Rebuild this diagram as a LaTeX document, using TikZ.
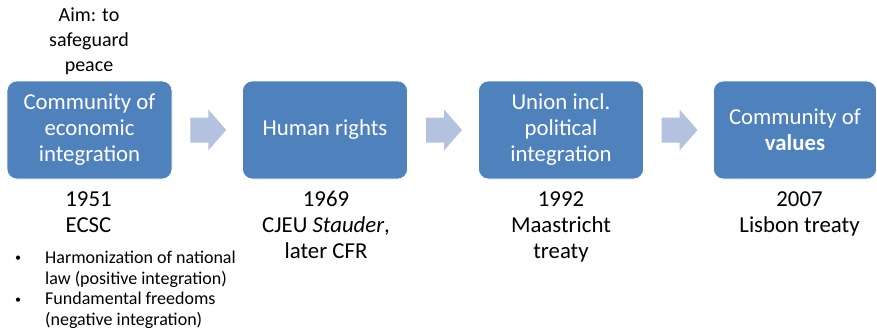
\documentclass[tikz,border=0pt]{standalone}
\usepackage{fontspec}
\setmainfont{Carlito}
\usetikzlibrary{calc}
\definecolor{boxblue}{HTML}{4F81BD}
\definecolor{arrowblue}{HTML}{B3C2DF}
\newcommand{\stackl}[1]{\begin{tabular}[t]{@{}c@{}}#1\end{tabular}}
\newcommand{\smallbullet}{\makebox[31pt][l]{\hspace{1pt}\raisebox{1.5pt}{\fontsize{12}{12}\selectfont •}}}
\begin{document}
\begin{tikzpicture}[x=1pt,y=-1pt,
  stage/.style={rounded corners=10pt, fill=boxblue, draw=white, line width=0.6pt,
    minimum width=165pt, minimum height=98pt, text=white, align=center,
    font=\fontsize{22.8}{26}\selectfont, inner sep=0pt},
  note/.style={anchor=base, inner sep=0pt, font=\fontsize{22.8}{26}\selectfont},
  aimtext/.style={anchor=base, inner sep=0pt, font=\fontsize{20}{25}\selectfont},
  bullettext/.style={anchor=base west, inner sep=0pt, font=\fontsize{18}{20.7}\selectfont},
  chevron/.style={fill=arrowblue}]
\useasboundingbox (0,0) rectangle (877,335);

\node[stage] (s1) at (89.5,130) {Community of\\economic\\integration};
\node[stage] (s2) at (325,130) {Human rights};
\node[stage] (s3) at (561,130) {Union incl.\\political\\integration};
\node[stage, minimum width=163pt] (s4) at (795,130) {Community of\\\textbf{values}};

\foreach \a/\b/\n in {s1/s2/a1, s2/s3/a2, s3/s4/a3}{
  \coordinate (\n) at ($(\a.east)!0.5!(\b.west)+(1,0)$);
  \fill[chevron] ([shift={(-18,-12.5)}]\n) -- ([shift={(0,-12.5)}]\n)
    -- ([shift={(0,-20.5)}]\n) -- ([shift={(18,0)}]\n) -- ([shift={(0,20.5)}]\n)
    -- ([shift={(0,12.5)}]\n) -- ([shift={(-18,12.5)}]\n) -- cycle;
}

\node[aimtext] (aim) at (89,21.7) {\stackl{Aim: to\\safeguard\\peace}};

\node[note] (d1) at (88.5,206.7) {\stackl{1951\\ECSC}};
\node[note] (d2) at (326,206.7) {\stackl{1969\\CJEU \textit{Stauder},\\later CFR}};
\node[note] (d3) at (561,206.7) {\stackl{1992\\Maastricht\\treaty}};
\node[note] (d4) at (799.5,206.7) {\stackl{2007\\Lisbon treaty}};

\node[bullettext] (bul) at (14,263.3) {\begin{tabular}[t]{@{}l@{}l@{}}
\smallbullet & Harmonization of national\\
 & law (positive integration)\\
\smallbullet & Fundamental freedoms\\
 & (negative integration)
\end{tabular}};
\end{tikzpicture}
\end{document}
